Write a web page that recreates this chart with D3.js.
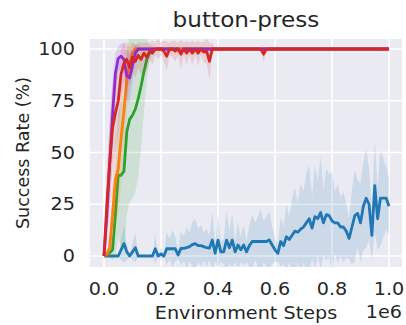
<!DOCTYPE html>
<html>
<head>
<meta charset="utf-8">
<script src="https://cdn.jsdelivr.net/npm/d3@7"></script>
<style>
  html, body { margin: 0; padding: 0; background: #ffffff; }
  svg { display: block; }
  text { font-family: "DejaVu Sans", sans-serif; fill: #262626; }
</style>
</head>
<body>
<svg id="chart" width="406" height="325"></svg>
<script>
// Environment steps at which success rate was evaluated (every 10k steps)
const steps = d3.range(0, 1000001, 10000);

// Mean success rate (%) per method
const blueMean = [0,0,0,0,0,0,3,6,2,0, 2,4,0,0,0,0,0,0,3.5,0, 1,0,3.5,3.5,3.5,3.5,0.5,3.7,3.7,4,
  4.5,5.5,6,5,5,4.5,4,3.8,7.7,1.3, 7.7,2,2,7.7,4,7.7,2,5.3,3,5.3, 2,5,7,7,7,7,7,7,7.7,5.3,
  3,1.3,7,5,9.3,8,10,12,11.5,13, 14,16,18,13.5,19,18,21,16,20,19.5, 17,16,16,14,14,12,8.5,14,19.5,20.6,
  16,24,27.9,25,10,34,18,28,28,28, 24];
const greenMean = [0,1,1.5,3,20,39,39,41,60,66, 68,71,76,82,89,95,98,99.5,100,100];
const orangeMean = [0,1,4,20,37,42,57,70,85,93, 98,100];
const purpleMean = [0,20,45,68,88,95.5,96.5,95,87,86, 92,98,100,100,100,100,100,100,100,100,
  100,100,100,100,100,100,100,98.5,100,100];
const redMean = [0,25,45,62,69,75,88,93,95,91, 96,94,97,95,98,96,99,98,100,100,
  100,99,96.5,100,100,99,100,97.5,100,98, 100,98,100,98,100,98.5,99,94,100,100,
  100,100,100,100,100,100,100,100,100,100, 100,100,100,100,100,100,97.5,100];

// Spread of success rate across seeds (shaded band = mean ± spread)
const blueSpread = [0,0,0,0,0,0,5,9,4,0, 4,7,0,0,0,0,0,0,7,0, 3,0,8,5,9,6,2,8,6,10,
  7,11,12,8,10,7,9,6,14,4, 13,5,6,14,8,13,5,11,6,10, 5,10,13,9,12,16,10,12,14,9,
  6,4,12,9,16,11,18,21,14,22, 17,24,26,15,25,18,27,16,22,20, 24,15,19,14,17,13,10,18,22,16,
  19,21,24,17,12,22,15,23,19,15, 14];
const greenSpread = [0,1,2,5,20,30,35,38,40,40, 40,40,38,30,20,10,4,2,0,0];
const orangeSpread = [0,2,5,15,20,22,22,20,15,10, 5,2];
const purpleSpread = [0,15,20,18,10,6,6,8,12,12, 8,4,2,0,0,0,0,0,0,0,
  0,0,0,0,0,0,0,2,0,0];
const redSpread = [0,15,20,20,18,15,12,10,8,9, 7,8,6,8,5,7,4,6,3,5,
  3,5,7,3,4,5,3,7,3,6, 3,6,3,6,3,5,6,9,3,0,
  0,0,0,0,0,0,0,0,0,0, 0,0,0,0,0,0,4,0];

const xTicks = [0, 200000, 400000, 600000, 800000, 1000000];
const xTickLabels = ["0.0", "0.2", "0.4", "0.6", "0.8", "1.0"];
const yTicks = [0, 25, 50, 75, 100];
const yTickLabels = ["0", "25", "50", "75", "100"];

const colors = {
  blue: "#1f77b4", green: "#2ca02c", orange: "#ff7f0e", purple: "#8b2be2", red: "#d62728"
};

// Extend a series that has settled at its final value to the full step range
function fullSeries(values, spread) {
  return steps.map((s, i) => {
    const m = i < values.length ? values[i] : values[values.length - 1];
    const sd = i < spread.length ? spread[i] : 0;
    return { step: s, mean: m, lo: m - sd, hi: m + sd };
  });
}

const series = [
  { key: "blue", data: fullSeries(blueMean, blueSpread) },
  { key: "green", data: fullSeries(greenMean, greenSpread) },
  { key: "orange", data: fullSeries(orangeMean, orangeSpread) },
  { key: "purple", data: fullSeries(purpleMean, purpleSpread) },
  { key: "red", data: fullSeries(redMean, redSpread) }
];

const svg = d3.select("#chart");
const plot = { left: 90, right: 402, top: 39, bottom: 267 };

const x = d3.scaleLinear().domain([0, 1000000]).range([104, 389]);
const y = d3.scaleLinear().domain([0, 100]).range([256, 49]);

// Stretched text helper (wide tick/title glyphs)
const SX = 1.13;
function label(g, px, py, str, size, anchor) {
  return g.append("text")
    .attr("transform", `translate(${px},${py}) scale(${SX},1)`)
    .attr("text-anchor", anchor)
    .attr("font-size", size)
    .text(str);
}

// Plot background
svg.append("rect")
  .attr("x", plot.left).attr("y", plot.top)
  .attr("width", plot.right - plot.left).attr("height", plot.bottom - plot.top)
  .attr("fill", "#eaeaf2");

svg.append("clipPath").attr("id", "plotClip")
  .append("rect")
  .attr("x", plot.left).attr("y", plot.top)
  .attr("width", plot.right - plot.left).attr("height", plot.bottom - plot.top);

// Grid lines
const grid = svg.append("g");
grid.selectAll("line.gx").data(xTicks).join("line")
  .attr("x1", d => x(d)).attr("x2", d => x(d))
  .attr("y1", plot.top).attr("y2", plot.bottom)
  .attr("stroke", "#ffffff").attr("stroke-width", 1.6);
grid.selectAll("line.gy").data(yTicks).join("line")
  .attr("y1", d => y(d)).attr("y2", d => y(d))
  .attr("x1", plot.left).attr("x2", plot.right)
  .attr("stroke", "#ffffff").attr("stroke-width", 1.6);

// Bands and lines
const marks = svg.append("g").attr("clip-path", "url(#plotClip)");
const area = d3.area().x(d => x(d.step)).y0(d => y(d.lo)).y1(d => y(d.hi));
const line = d3.line().x(d => x(d.step)).y(d => y(d.mean)).curve(d3.curveLinear);

series.forEach(s => {
  marks.append("path").datum(s.data)
    .attr("d", area)
    .attr("fill", colors[s.key]).attr("fill-opacity", 0.15)
    .attr("stroke", "none");
  marks.append("path").datum(s.data)
    .attr("d", line)
    .attr("fill", "none")
    .attr("stroke", colors[s.key])
    .attr("stroke-width", 2.8)
    .attr("stroke-linejoin", "round")
    .attr("stroke-linecap", "butt");
});

// Tick labels
const axes = svg.append("g");
xTicks.forEach((t, i) => label(axes, x(t), 295, xTickLabels[i], 17, "middle"));
yTicks.forEach((t, i) => label(axes, 75, y(t) + 6.2, yTickLabels[i], 17, "end"));

// Axis titles
label(axes, 246, 319, "Environment Steps", 17, "middle");
label(axes, 402, 318, "1e6", 17, "end");
axes.append("text")
  .attr("transform", "translate(29,153) rotate(-90)")
  .attr("text-anchor", "middle")
  .attr("font-size", 17.5)
  .text("Success Rate (%)");

// Chart title
label(svg, 246, 27, "button-press", 20.5, "middle");
</script>
</body>
</html>
